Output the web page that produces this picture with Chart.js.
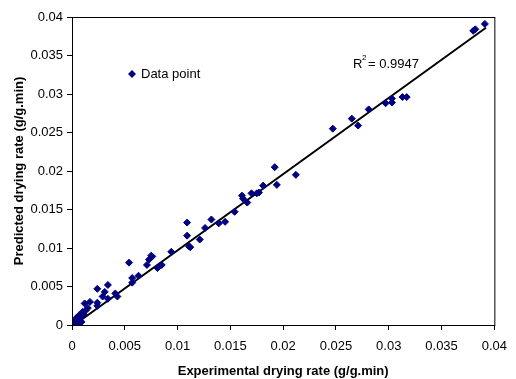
<!DOCTYPE html>
<html>
<head>
<meta charset="utf-8">
<script src="https://cdn.jsdelivr.net/npm/chart.js@4"></script>
<style>
  html, body { margin: 0; padding: 0; background: #fff; }
  #wrap { width: 516px; height: 379px; }
</style>
</head>
<body>
<div id="wrap"><canvas id="dryChart" width="516" height="379"></canvas></div>
<script>
// experimental vs predicted drying rate (g/g.min)
const expRate = [
  0.0000, 0.0001, 0.0002, 0.0001, 0.0003, 0.0002, 0.0004, 0.0004, 0.0005, 0.0004,
  0.0006, 0.0007, 0.0007, 0.0008, 0.0009, 0.0010, 0.0011, 0.0006, 0.0009, 0.0012,
  0.0015, 0.0017, 0.0013, 0.0024, 0.0024, 0.0024, 0.0029, 0.0031, 0.0034, 0.0034,
  0.0041, 0.0043, 0.0054, 0.0057, 0.0057, 0.0063, 0.0071, 0.0073, 0.0075, 0.0076,
  0.0081, 0.0085, 0.0094, 0.0109, 0.0109, 0.0111, 0.0112, 0.0121, 0.0126, 0.0132,
  0.0139, 0.0145, 0.0154, 0.0161, 0.0162, 0.0166, 0.0170, 0.0175, 0.0177, 0.0181,
  0.0192, 0.0194, 0.0212, 0.0247, 0.0265, 0.0271, 0.0281, 0.0297, 0.0303, 0.0303,
  0.0313, 0.0317, 0.0380, 0.0382, 0.0391
];
const predRate = [
  0.0000, 0.0000, 0.0001, 0.0002, 0.0002, 0.0004, 0.0003, 0.0006, 0.0005, 0.0009,
  0.0007, 0.0010, 0.0013, 0.0009, 0.0012, 0.0017, 0.0014, 0.0001, 0.0004, 0.0028,
  0.0022, 0.0030, 0.0019, 0.0029, 0.0025, 0.0047, 0.0037, 0.0043, 0.0052, 0.0034,
  0.0041, 0.0037, 0.0081, 0.0061, 0.0055, 0.0064, 0.0078, 0.0085, 0.0090, 0.0089,
  0.0074, 0.0078, 0.0095, 0.0133, 0.0116, 0.0102, 0.0101, 0.0111, 0.0126, 0.0137,
  0.0132, 0.0134, 0.0147, 0.0168, 0.0164, 0.0159, 0.0171, 0.0171, 0.0172, 0.0181,
  0.0205, 0.0182, 0.0195, 0.0255, 0.0268, 0.0259, 0.0280, 0.0288, 0.0294, 0.0289,
  0.0296, 0.0296, 0.0382, 0.0384, 0.0391
];
// linear trendline ends
const trendX = [0.0002, 0.0392];
const trendY = [0.0000, 0.0386];
const axisTicks = [0, 0.005, 0.01, 0.015, 0.02, 0.025, 0.03, 0.035, 0.04];
const rSquared = "0.9947";

const FONT = "'Liberation Sans', Arial, sans-serif";
const fmt = v => String(Number(v.toFixed(3)));

// box round the plot, legend entry and R² label
const extras = {
  id: "extras",
  afterDraw(chart) {
    const { ctx, chartArea: a } = chart;
    ctx.save();
    ctx.strokeStyle = "#000";
    ctx.lineWidth = 1;
    ctx.strokeRect(a.left + 0.5, a.top + 0.5, a.right - a.left, a.bottom - a.top);

    // legend
    ctx.fillStyle = "#000080";
    ctx.beginPath();
    ctx.moveTo(128, 74); ctx.lineTo(132, 70); ctx.lineTo(136, 74); ctx.lineTo(132, 78);
    ctx.closePath(); ctx.fill();
    ctx.fillStyle = "#000";
    ctx.font = "13px " + FONT;
    ctx.textBaseline = "middle";
    ctx.fillText("Data point", 141, 74);

    // R²
    ctx.fillText("R", 353, 64);
    ctx.font = "8px " + FONT;
    ctx.fillText("2", 362, 58);
    ctx.font = "13px " + FONT;
    ctx.fillText("= " + rSquared, 368, 64);
    ctx.restore();
  }
};

new Chart(document.getElementById("dryChart"), {
  type: "scatter",
  data: {
    datasets: [
      {
        label: "Linear",
        type: "line",
        data: trendX.map((x, i) => ({ x, y: trendY[i] })),
        borderColor: "#000",
        borderWidth: 2,
        pointRadius: 0,
        fill: false,
        order: 2
      },
      {
        label: "Data point",
        data: expRate.map((x, i) => ({ x, y: predRate[i] })),
        pointStyle: "rectRot",
        pointRadius: 3.5,
        borderWidth: 1,
        backgroundColor: "#000080",
        borderColor: "#000080",
        order: 1
      }
    ]
  },
  plugins: [extras],
  options: {
    responsive: false,
    animation: false,
    layout: { padding: { top: 17, right: 11, left: 0, bottom: 0 } },
    plugins: { legend: { display: false }, tooltip: { enabled: false } },
    scales: {
      x: {
        type: "linear",
        min: 0, max: 0.04,
        afterBuildTicks: s => { s.ticks = axisTicks.map(v => ({ value: v })); },
        afterFit: s => { s.height = 54; },
        border: { color: "#000", width: 1 },
        grid: { drawOnChartArea: false, drawTicks: true, tickLength: 5, tickColor: "#000" },
        ticks: { color: "#000", font: { family: FONT, size: 13 }, padding: 9, callback: fmt, maxRotation: 0 },
        title: {
          display: true,
          text: "Experimental drying rate (g/g.min)",
          color: "#000",
          font: { family: FONT, size: 13, weight: "bold" },
          padding: { top: 4, bottom: 0 }
        }
      },
      y: {
        type: "linear",
        min: 0, max: 0.04,
        afterBuildTicks: s => { s.ticks = axisTicks.map(v => ({ value: v })); },
        afterFit: s => { s.width = 72; },
        border: { color: "#000", width: 1 },
        grid: { drawOnChartArea: false, drawTicks: true, tickLength: 5, tickColor: "#000" },
        ticks: { color: "#000", font: { family: FONT, size: 13 }, padding: 4, callback: fmt },
        title: {
          display: true,
          text: "Predicted drying rate (g/g.min)",
          color: "#000",
          font: { family: FONT, size: 13, weight: "bold" },
          padding: { top: 12, bottom: 0 }
        }
      }
    }
  }
});
</script>
</body>
</html>
